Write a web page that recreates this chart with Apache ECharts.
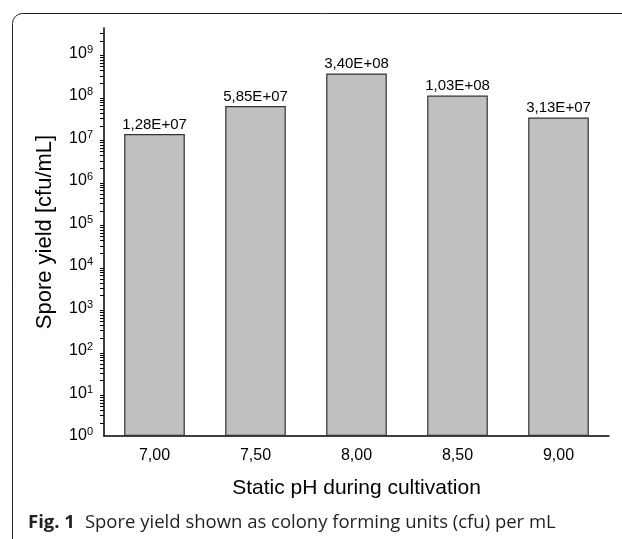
<!DOCTYPE html>
<html>
<head>
<meta charset="utf-8">
<script src="https://cdn.jsdelivr.net/npm/echarts@6/dist/echarts.min.js"></script>
<style>
	html, body { margin: 0; padding: 0; background: #fff; }
	#chart { width: 622px; height: 539px; }
</style>
</head>
<body>
<div id="chart"></div>
<script>
// pH values on the x axis
const categories = ['7,00', '7,50', '8,00', '8,50', '9,00'];
// spore yield, cfu/mL
const sporeYield = [1.28e7, 5.85e7, 3.40e8, 1.03e8, 3.13e7];
const yMin = 1;
const yMax = 4e9;

// 1.28e7 -> "1,28E+07"
function sciLabel(v) {
	const exp = Math.floor(Math.log10(v));
	const mant = (v / Math.pow(10, exp)).toFixed(2).replace('.', ',');
	return mant + 'E+' + (exp < 10 ? '0' + exp : exp);
}

const font = 'Liberation Sans, Arial, sans-serif';
const myChart = echarts.init(document.getElementById('chart'));
const option = {
	animation: false,
	grid: {
		left: 104,
		right: 13,
		top: 28,
		bottom: 103,
	},
	title: {
		left: 23,
		top: 508,
		text: '{b|Fig. 1}  {n|Spore yield shown as colony forming units (cfu) per mL}',
		textStyle: {
			fontWeight: 'normal',
			rich: {
				b: { fontFamily: 'Open Sans', fontWeight: 'bold', fontSize: 18.5, color: '#231f20' },
				n: { fontFamily: 'Open Sans', fontWeight: 'normal', fontSize: 18.5, color: '#231f20' },
			},
		},
	},
	graphic: [
		{
			type: 'rect',
			shape: { x: 12.5, y: 13.5, width: 700, height: 700, r: 10 },
			style: { fill: 'none', stroke: '#222', lineWidth: 1 },
			silent: true,
		},
	],
	xAxis: [
		{
			type: 'category',
			position: 'bottom',
			data: categories,
			name: 'Static pH during cultivation',
			nameLocation: 'middle',
			nameGap: 42,
			nameTextStyle: { fontFamily: font, fontSize: 21, color: '#000' },
			axisLine: { lineStyle: { color: '#000', width: 1.5 } },
			axisTick: { alignWithLabel: true, length: 6, lineStyle: { color: '#000', width: 1.5 } },
			axisLabel: { fontFamily: font, fontSize: 16, color: '#000', margin: 12 },
		},
		{
			// boundary ticks between categories
			type: 'category',
			position: 'bottom',
			data: categories,
			axisLine: { show: false },
			axisTick: { length: 4, lineStyle: { color: '#000', width: 1.5 } },
			axisLabel: { show: false },
		},
	],
	yAxis: {
		type: 'log',
		min: yMin,
		max: yMax,
		splitNumber: 10,
		name: 'Spore yield [cfu/mL]',
		nameLocation: 'middle',
		nameGap: 48,
		nameTextStyle: { fontFamily: font, fontSize: 22, color: '#000' },
		axisLine: { show: true, lineStyle: { color: '#000', width: 1.5 } },
		axisTick: { length: 7, lineStyle: { color: '#000', width: 1.5 } },
		minorTick: { show: true, splitNumber: 9, length: 4, lineStyle: { color: '#000', width: 1 } },
		splitLine: { show: false },
		axisLabel: {
			showMaxLabel: false,
			margin: 11,
			formatter: (v) => '{b|10}{s|' + Math.round(Math.log10(v)) + '}',
			rich: {
				b: { fontFamily: font, fontSize: 16, color: '#000' },
				s: { fontFamily: font, fontSize: 11, color: '#000', verticalAlign: 'top', padding: [0, 0, 8, 0] },
			},
		},
	},
	series: [
		{
			type: 'bar',
			xAxisIndex: 0,
			data: sporeYield,
			barWidth: '60%',
			itemStyle: { color: '#c0c0c0', borderColor: '#333', borderWidth: 1.2 },
			label: {
				show: true,
				position: 'top',
				distance: 2,
				fontFamily: font,
				fontSize: 15,
				color: '#000',
				formatter: (p) => sciLabel(p.value),
			},
		},
	],
};
myChart.setOption(option);
</script>
</body>
</html>
